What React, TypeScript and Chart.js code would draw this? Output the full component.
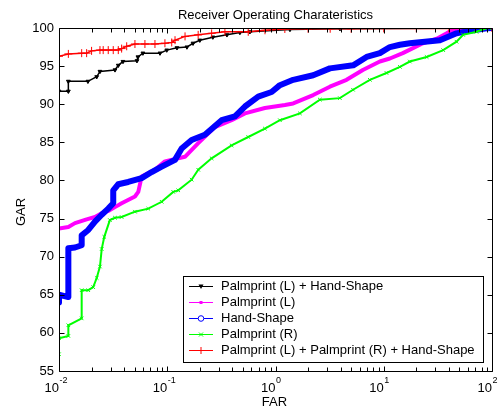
import React, { useEffect, useRef } from "react";
import { Chart, registerables } from "chart.js";

Chart.register(...registerables);

// ---- Data ----
const titleText = "Receiver Operating Charateristics";
const xLabel = "FAR";
const yLabel = "GAR";

const seriesLabels = [
  "Palmprint (L) + Hand-Shape",
  "Palmprint (L)",
  "Hand-Shape",
  "Palmprint (R)",
  "Palmprint (L) + Palmprint (R) + Hand-Shape",
];
const seriesColors = ["#000000", "#ff00ff", "#0000ff", "#00ff00", "#ff0000"];

const xDecades = [-2, -1, 0, 1, 2];
const yTickValues = [55, 60, 65, 70, 75, 80, 85, 90, 95, 100];

const blackFar = [0.01, 0.0122, 0.0122, 0.0185, 0.0223, 0.0239, 0.0329, 0.0353, 0.039, 0.0525, 0.0536, 0.0596, 0.0857, 0.099, 0.123, 0.152, 0.173, 0.2, 0.264, 0.356, 0.469, 0.58, 1.36, 3.94, 100];
const blackGar = [91.7, 91.7, 93.0, 93.0, 93.6, 94.3, 94.5, 95.1, 95.6, 95.7, 96.2, 96.7, 96.7, 97.1, 97.4, 97.5, 98.0, 98.4, 98.8, 99.1, 99.4, 99.5, 99.8, 99.9, 100];

const magentaFar = [0.01, 0.0122, 0.01405, 0.018, 0.0215, 0.0248, 0.0285, 0.0329, 0.0379, 0.0503, 0.054, 0.058, 0.077, 0.0952, 0.1457, 0.1934, 0.2757, 0.393, 0.522, 0.798, 1.222, 1.457, 2.23, 3.18, 4.535, 6.41, 9.2, 11.4, 15.0, 23.0, 30.9, 38.2, 42.6, 72.4, 100];
const magentaGar = [73.7, 73.9, 74.4, 74.9, 75.2, 75.7, 76.0, 76.5, 77.0, 77.9, 78.5, 80.5, 81.4, 82.5, 83.1, 84.9, 87.0, 87.9, 88.8, 89.5, 89.9, 90.1, 91.2, 92.3, 93.2, 94.5, 95.6, 96.0, 96.7, 98.0, 98.6, 99.3, 99.7, 99.96, 100];

const blueFar = [0.01, 0.01, 0.0122, 0.0122, 0.01405, 0.0162, 0.0162, 0.01864, 0.0215, 0.0248, 0.0285, 0.0317, 0.0317, 0.0353, 0.0436, 0.058, 0.0718, 0.0888, 0.1178, 0.1358, 0.168, 0.2228, 0.318, 0.4218, 0.5219, 0.6923, 0.9204, 1.098, 1.457, 2.23, 3.18, 5.219, 6.94, 9.2, 11.4, 14.1, 17.4, 33.0, 47.0, 62.4, 89.0, 100];
const blueGar = [64.0, 65.0, 64.7, 71.1, 71.2, 71.5, 72.8, 73.5, 74.6, 75.5, 76.3, 77.0, 78.7, 79.5, 79.8, 80.3, 81.1, 81.8, 82.7, 84.2, 85.3, 86.0, 87.9, 88.4, 89.7, 91.0, 91.6, 92.5, 93.2, 93.8, 94.7, 95.1, 96.2, 96.7, 97.5, 97.8, 98.0, 98.4, 99.3, 99.65, 99.96, 100];

const greenFar = [0.01, 0.01, 0.0122, 0.0122, 0.0162, 0.0162, 0.01864, 0.0207, 0.0223, 0.0239, 0.0248, 0.0262, 0.0295, 0.0329, 0.0379, 0.0503, 0.0668, 0.0888, 0.1136, 0.1264, 0.168, 0.1934, 0.257, 0.393, 0.56, 0.798, 1.098, 1.68, 2.57, 3.93, 5.2, 7.44, 10.6, 14.1, 17.4, 24.9, 35.4, 47.0, 54.1, 71.9, 89.0, 100];
const greenGar = [57.2, 59.3, 59.6, 61.0, 61.9, 65.6, 65.6, 66.0, 67.2, 68.7, 71.0, 72.6, 74.8, 75.1, 75.2, 75.9, 76.3, 77.2, 78.5, 78.7, 80.1, 81.4, 82.9, 84.6, 85.7, 86.8, 87.9, 88.8, 90.6, 90.8, 91.9, 93.2, 94.1, 94.9, 95.6, 96.2, 97.1, 98.2, 99.1, 99.5, 99.96, 100];

const redFar = [0.01, 0.0122, 0.0162, 0.018, 0.02, 0.0239, 0.0256, 0.0285, 0.0317, 0.0353, 0.0379, 0.0422, 0.0503, 0.0622, 0.077, 0.0952, 0.11, 0.118, 0.146, 0.193, 0.257, 0.341, 0.56, 0.8, 1.22, 2.0, 3.2, 5.0, 10, 20, 40, 100];
const redGar = [96.3, 96.6, 96.7, 96.7, 97.0, 97.1, 97.1, 97.1, 97.1, 97.1, 97.3, 97.6, 97.9, 97.9, 97.9, 98.0, 98.1, 98.4, 98.9, 99.1, 99.3, 99.5, 99.5, 99.7, 99.87, 99.9, 99.9, 99.9, 99.95, 99.95, 99.95, 100];

const FONT = "'Liberation Sans', Arial, Helvetica, sans-serif";
const NARROW = "'Liberation Sans Narrow', 'Liberation Sans', Arial, sans-serif";

const toPoints = (far: number[], gar: number[]) => far.map((f, i) => ({ x: f, y: gar[i] }));

function drawLegendMarker(ctx: CanvasRenderingContext2D, i: number, x: number, y: number) {
  const c = seriesColors[i];
  ctx.save();
  ctx.strokeStyle = c;
  ctx.fillStyle = c;
  ctx.lineWidth = 1;
  ctx.beginPath();
  if (i === 0) {
    ctx.moveTo(x - 2.5, y - 2);
    ctx.lineTo(x + 2.5, y - 2);
    ctx.lineTo(x, y + 2.5);
    ctx.closePath();
    ctx.fill();
  } else if (i === 1) {
    ctx.fillRect(x - 1.5, y - 1.5, 3, 3);
  } else if (i === 2) {
    ctx.arc(x, y, 2.8, 0, Math.PI * 2);
    ctx.fillStyle = "#fff";
    ctx.fill();
    ctx.stroke();
  } else if (i === 3) {
    ctx.moveTo(x - 2, y - 2);
    ctx.lineTo(x + 2, y + 2);
    ctx.moveTo(x + 2, y - 2);
    ctx.lineTo(x - 2, y + 2);
    ctx.stroke();
  } else {
    ctx.moveTo(x - 3.5, y);
    ctx.lineTo(x + 3.5, y);
    ctx.moveTo(x, y - 3.5);
    ctx.lineTo(x, y + 3.5);
    ctx.stroke();
  }
  ctx.restore();
}

const decorPlugin = {
  id: "decor",
  afterDraw(chart: any) {
    const { ctx, chartArea: a, scales } = chart;
    const xs = scales.x;
    const ys = scales.y;
    ctx.save();
    ctx.strokeStyle = "#000";
    ctx.lineWidth = 1;
    const L = Math.floor(a.left) + 0.5;
    const R = Math.floor(a.right) + 0.5;
    const T = Math.floor(a.top) + 0.5;
    const B = Math.floor(a.bottom) + 0.5;
    ctx.beginPath();
    ctx.rect(L, T, R - L, B - T);
    ctx.stroke();

    // y ticks (inward, both sides)
    ctx.beginPath();
    for (const v of yTickValues) {
      const y = Math.round(ys.getPixelForValue(v)) + 0.5;
      ctx.moveTo(L, y);
      ctx.lineTo(L + 5, y);
      ctx.moveTo(R, y);
      ctx.lineTo(R - 5, y);
    }
    // x ticks (log major + minor)
    for (let di = 0; di < xDecades.length; di++) {
      const k = xDecades[di];
      const major = Math.round(xs.getPixelForValue(Math.pow(10, k))) + 0.5;
      ctx.moveTo(major, B);
      ctx.lineTo(major, B - 5);
      ctx.moveTo(major, T);
      ctx.lineTo(major, T + 5);
      if (di < xDecades.length - 1) {
        for (let m = 2; m <= 9; m++) {
          const x = Math.round(xs.getPixelForValue(m * Math.pow(10, k))) + 0.5;
          ctx.moveTo(x, B);
          ctx.lineTo(x, B - 4);
          ctx.moveTo(x, T);
          ctx.lineTo(x, T + 4);
        }
      }
    }
    ctx.stroke();

    // x tick labels 10^k
    ctx.fillStyle = "#000";
    ctx.textBaseline = "alphabetic";
    for (const k of xDecades) {
      const px = xs.getPixelForValue(Math.pow(10, k));
      ctx.font = `13px ${NARROW}`;
      ctx.textAlign = "right";
      ctx.fillText("10", px, B + 20.5);
      ctx.font = `9px ${NARROW}`;
      ctx.textAlign = "left";
      ctx.fillText(String(k), px + 0.5, B + 11.5);
    }

    // axis labels
    ctx.font = `13px ${FONT}`;
    ctx.textAlign = "center";
    ctx.textBaseline = "alphabetic";
    ctx.fillText(xLabel, (a.left + a.right) / 2 - 1, 406);
    ctx.save();
    ctx.translate(21.5, 212);
    ctx.rotate(-Math.PI / 2);
    ctx.textBaseline = "middle";
    ctx.fillText(yLabel, 0, 0);
    ctx.restore();

    // legend
    const lw = 300;
    const lh = 86;
    const lx = Math.floor(a.right) - 9 - lw;
    const ly = Math.floor(a.bottom) - 9 - lh;
    ctx.fillStyle = "#fff";
    ctx.fillRect(lx, ly, lw, lh);
    ctx.strokeStyle = "#000";
    ctx.lineWidth = 1;
    ctx.strokeRect(lx + 0.5, ly + 0.5, lw, lh);
    for (let i = 0; i < seriesLabels.length; i++) {
      const y = ly + 9.7 + i * 16.15;
      ctx.strokeStyle = seriesColors[i];
      ctx.beginPath();
      ctx.moveTo(lx + 6, Math.round(y) + 0.5);
      ctx.lineTo(lx + 30, Math.round(y) + 0.5);
      ctx.stroke();
      drawLegendMarker(ctx, i, lx + 18, Math.round(y) + 0.5);
      ctx.fillStyle = "#000";
      ctx.font = `13px ${FONT}`;
      ctx.textAlign = "left";
      ctx.textBaseline = "middle";
      ctx.fillText(seriesLabels[i], lx + 38, y + 0.5);
    }
    ctx.restore();
  },
};

export default function App() {
  const canvasRef = useRef<HTMLCanvasElement | null>(null);

  useEffect(() => {
    const canvas = canvasRef.current;
    if (!canvas) return;
    const chart = new Chart(canvas, {
      type: "line",
      data: {
        datasets: [
          {
            label: seriesLabels[0],
            data: toPoints(blackFar, blackGar),
            borderColor: seriesColors[0],
            backgroundColor: seriesColors[0],
            borderWidth: 1.5,
            pointStyle: "triangle",
            rotation: 180,
            pointRadius: 2.2,
            pointBorderWidth: 1,
            tension: 0,
            order: 4,
          },
          {
            label: seriesLabels[1],
            data: toPoints(magentaFar, magentaGar),
            borderColor: seriesColors[1],
            backgroundColor: seriesColors[1],
            borderWidth: 4,
            borderJoinStyle: "round",
            borderCapStyle: "round",
            pointRadius: 0,
            tension: 0,
            order: 3,
          },
          {
            label: seriesLabels[2],
            data: toPoints(blueFar, blueGar),
            borderColor: seriesColors[2],
            backgroundColor: seriesColors[2],
            borderWidth: 6,
            borderJoinStyle: "round",
            borderCapStyle: "round",
            pointRadius: 0,
            tension: 0,
            order: 2,
          },
          {
            label: seriesLabels[3],
            data: toPoints(greenFar, greenGar),
            borderColor: seriesColors[3],
            backgroundColor: seriesColors[3],
            borderWidth: 2,
            pointStyle: "crossRot",
            pointRadius: 2.5,
            pointBorderWidth: 1,
            tension: 0,
            order: 1,
          },
          {
            label: seriesLabels[4],
            data: toPoints(redFar, redGar),
            borderColor: seriesColors[4],
            backgroundColor: seriesColors[4],
            borderWidth: 1.5,
            pointStyle: "cross",
            pointRadius: 4,
            pointBorderWidth: 1,
            tension: 0,
            order: 0,
          },
        ],
      },
      options: {
        responsive: false,
        animation: false,
        events: [],
        layout: { padding: { left: 0, right: 7, top: 0, bottom: 0 } },
        plugins: {
          legend: { display: false },
          tooltip: { enabled: false },
          title: {
            display: true,
            text: titleText,
            color: "#000",
            fullSize: false,
            font: { family: FONT, size: 13, weight: "normal" as any, lineHeight: 1.2 },
            padding: { top: 8, bottom: 4.4 },
          },
        },
        scales: {
          x: {
            type: "logarithmic",
            min: 0.01,
            max: 100,
            ticks: { display: false },
            grid: { display: false, drawTicks: false },
            border: { display: false },
            afterFit: (s: any) => {
              s.height = 35;
            },
          },
          y: {
            type: "linear",
            min: 55,
            max: 100,
            ticks: {
              stepSize: 5,
              color: "#000",
              padding: 5,
              font: { family: NARROW, size: 13 },
            },
            grid: { display: false, drawTicks: false },
            border: { display: false },
            afterFit: (s: any) => {
              s.width = 59;
            },
          },
        },
      },
      plugins: [decorPlugin],
    });
    return () => chart.destroy();
  }, []);

  return (
    <div style={{ position: "fixed", left: 0, top: 0, width: 499, height: 406, background: "#fff" }}>
      <canvas ref={canvasRef} width={499} height={406} style={{ display: "block" }} />
    </div>
  );
}
